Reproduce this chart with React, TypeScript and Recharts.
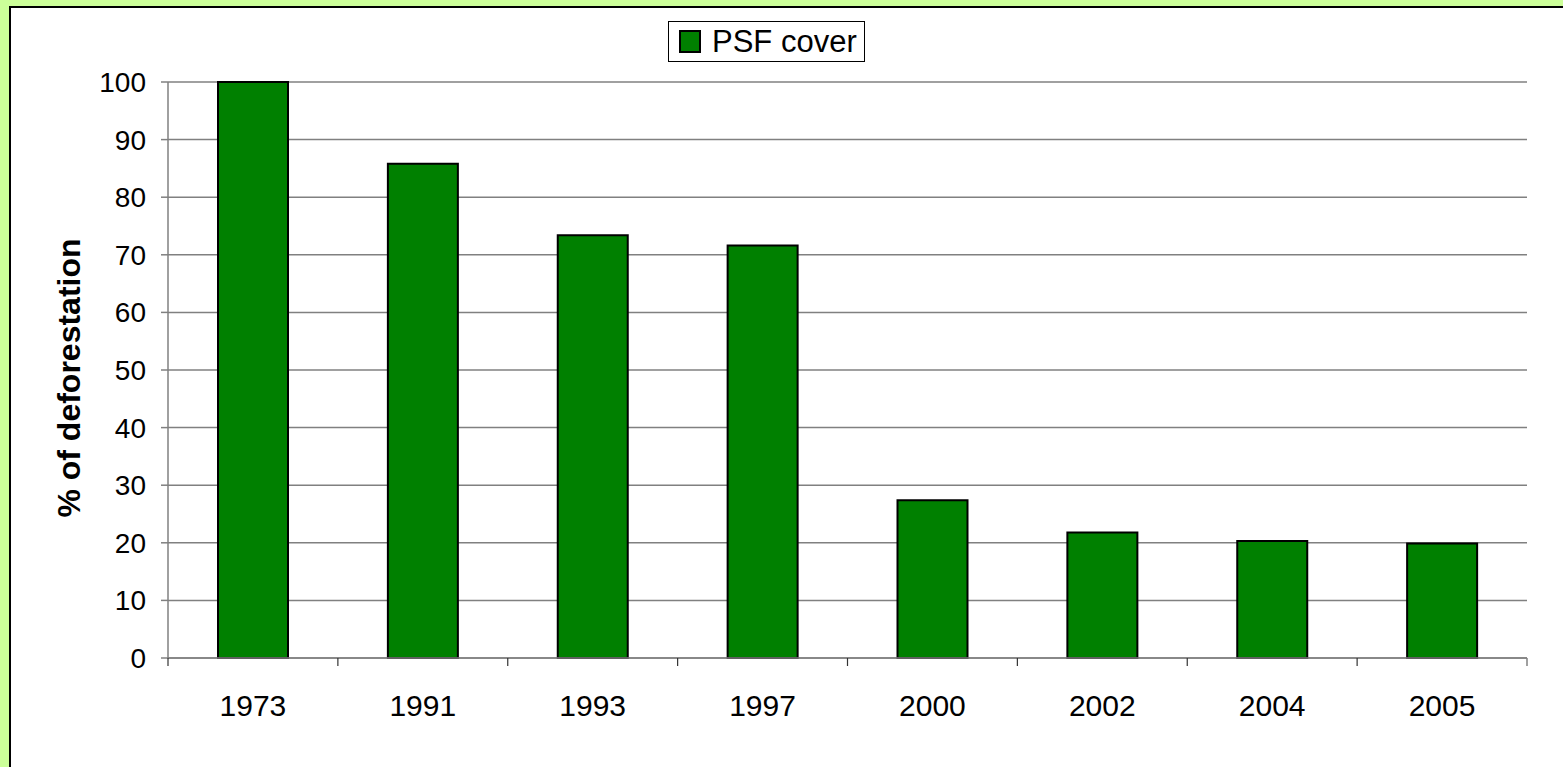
import { BarChart, Bar, XAxis, YAxis, CartesianGrid, Legend } from "recharts";

const years = ["1973", "1991", "1993", "1997", "2000", "2002", "2004", "2005"];
const psfCover = [100, 85.8, 73.4, 71.6, 27.4, 21.8, 20.3, 19.9];
const yTicks = [0, 10, 20, 30, 40, 50, 60, 70, 80, 90, 100];

const data = years.map((year, i) => ({ year, value: psfCover[i] }));

const FONT = "'Liberation Sans', Arial, sans-serif";
const GRID = "#808080";

const renderLegend = () => (
  <div
    style={{
      display: "flex",
      alignItems: "center",
      border: "1.5px solid #000",
      background: "#fff",
      height: 41,
      padding: "0 7px 0 10px",
      fontFamily: FONT,
      fontSize: 31,
      color: "#000",
      boxSizing: "border-box",
    }}
  >
    <span
      style={{
        display: "inline-block",
        width: 18,
        height: 19,
        background: "#008000",
        border: "2px solid #000",
        marginRight: 11,
      }}
    />
    PSF cover
  </div>
);

const renderYLabel = (props: any) => {
  const vb = props.viewBox || { x: 0, y: 0, width: 0, height: 0 };
  const cx = vb.x + 69;
  const cy = vb.y + vb.height / 2 + 8;
  return (
    <text
      x={cx}
      y={cy}
      transform={`rotate(-90, ${cx}, ${cy})`}
      textAnchor="middle"
      dominantBaseline="central"
      fontFamily={FONT}
      fontSize={32}
      fontWeight="bold"
      fill="#000"
    >
      % of deforestation
    </text>
  );
};

// tick marks sit between categories, as in the original Excel chart
const renderXTick = (p: any) => {
  const half =
    p.payload && typeof p.payload.offset === "number" && p.payload.offset > 0
      ? p.payload.offset
      : p.width / (p.visibleTicksCount || years.length) / 2;
  const left = p.x - half;
  const right = p.x + half;
  const isLast = p.index === (p.visibleTicksCount || years.length) - 1;
  return (
    <g>
      <line x1={left} x2={left} y1={p.y} y2={p.y + 8} stroke="#333" strokeWidth={1.2} />
      {isLast && <line x1={right} x2={right} y1={p.y} y2={p.y + 8} stroke={GRID} strokeWidth={1.5} />}
      <text
        x={p.x}
        y={p.y + 37}
        dy="0.71em"
        textAnchor="middle"
        fontFamily={FONT}
        fontSize={30}
        fill="#000"
      >
        {p.payload.value}
      </text>
    </g>
  );
};

export default function App() {
  return (
    <div
      style={{
        position: "absolute",
        top: 0,
        left: 0,
        width: 1563,
        height: 767,
        background: "#CCFF99",
        overflow: "hidden",
      }}
    >
      <div
        style={{
          position: "absolute",
          left: 9,
          top: 6,
          width: 1600,
          height: 800,
          background: "#fff",
          borderLeft: "2.5px solid #000",
          borderTop: "2.5px solid #000",
        }}
      />
      <div style={{ position: "absolute", left: 0, top: 0 }}>
        <BarChart
          width={1563}
          height={767}
          data={data}
          margin={{ top: 82, right: 36, left: 0, bottom: 49 }}
        >
          <CartesianGrid vertical={false} stroke={GRID} strokeWidth={1.5} yAxisId="left" />
          <XAxis
            dataKey="year"
            height={60}
            tickSize={0}
            tickMargin={0}
            interval={0}
            axisLine={{ stroke: GRID, strokeWidth: 1.5 }}
            tickLine={false}
            tick={renderXTick}
          />
          <YAxis
            yAxisId="left"
            domain={[0, 100]}
            ticks={yTicks}
            width={168}
            tickSize={7}
            tickMargin={15}
            interval={0}
            axisLine={{ stroke: GRID, strokeWidth: 1.5 }}
            tickLine={{ stroke: GRID, strokeWidth: 1.5 }}
            tick={{ fill: "#000", fontSize: 28, fontFamily: FONT }}
            label={{ content: renderYLabel }}
          />
          <YAxis
            yAxisId="right"
            orientation="right"
            domain={[0, 100]}
            width={0}
            tick={false}
            axisLine={{ stroke: GRID, strokeWidth: 1.5 }}
          />
          <Legend
            layout="horizontal"
            verticalAlign="middle"
            align="center"
            content={renderLegend}
            wrapperStyle={{ top: 21, left: 668, width: "auto", height: "auto" }}
          />
          <Bar
            dataKey="value"
            name="PSF cover"
            yAxisId="left"
            barSize={70}
            fill="#008000"
            stroke="#000"
            strokeWidth={2}
            isAnimationActive={false}
          />
        </BarChart>
      </div>
    </div>
  );
}
